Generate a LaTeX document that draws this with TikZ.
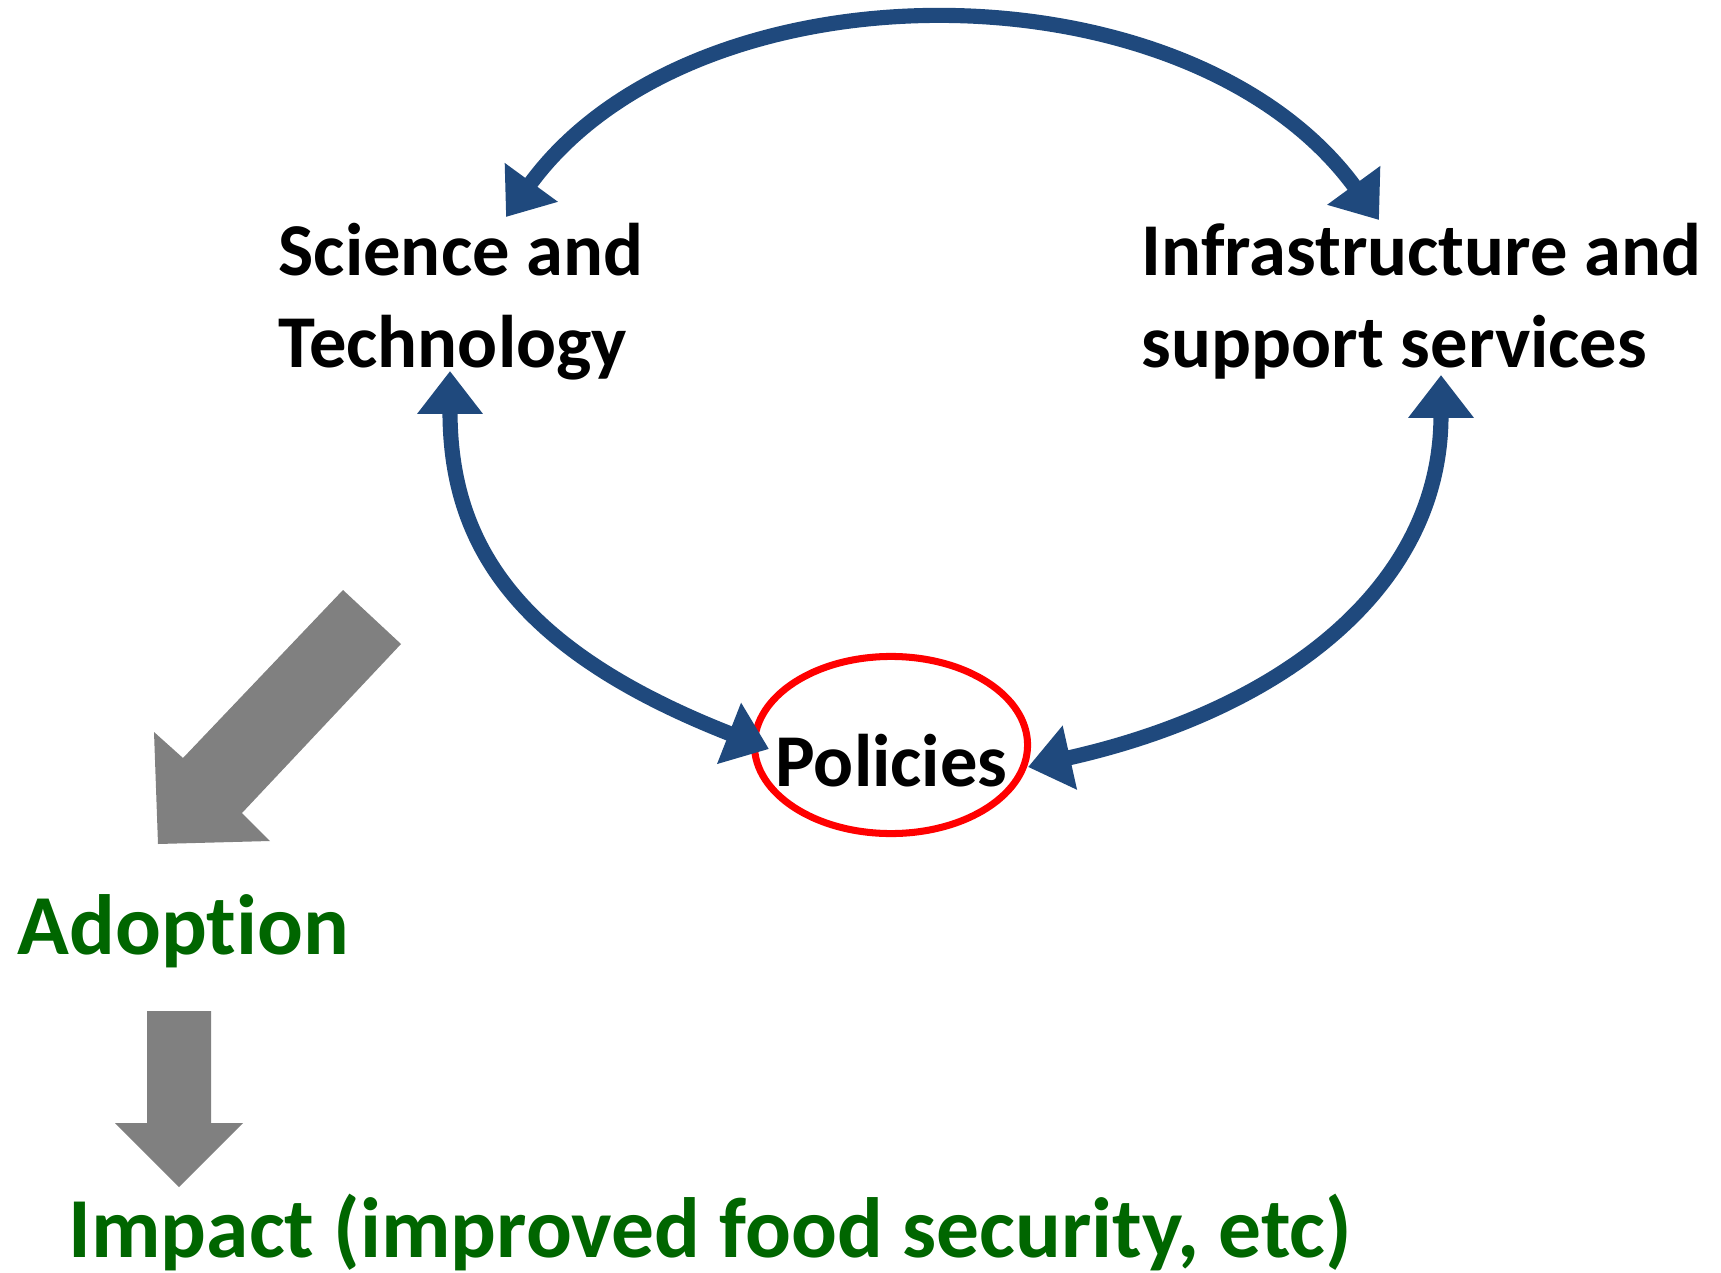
\documentclass[tikz,border=0pt]{standalone}
\usepackage{fontspec}
\setmainfont{Carlito}[Ligatures=NoCommon]
\usetikzlibrary{arrows.meta,calc,shapes.geometric}
\definecolor{linkblue}{HTML}{1F497D}
\definecolor{resultgreen}{HTML}{006600}
\colorlet{blockgray}{black!50}
\tikzset{
  topic/.style = {
    font=\fontsize{21.2}{26.2}\selectfont\bfseries,
    align=left, inner sep=0, anchor=north west
  },
  result/.style = {
    font=\fontsize{24.3}{28}\selectfont\bfseries,
    text=resultgreen, inner sep=0, anchor=base west
  },
  focus/.style = {
    ellipse, draw=red, line width=2pt,
    minimum width=2.73cm, minimum height=1.77cm, inner sep=0
  },
  link/.style = {
    line width=4.3pt, color=linkblue, <->,
    >={Triangle[length=12.2pt,width=17.9pt]}
  },
  block/.style = {fill=blockgray}
}

\begin{document}
\begin{tikzpicture}[x=0.01cm,y=-0.01cm]
  \useasboundingbox (0,0) rectangle (1721,1273);
  \node[topic] (sci) at (278,222) {Science and\\Technology};
  \node[topic] (infra) at (1141,222) {Infrastructure and\\support services};
  \node[focus] (pol) at (891,745) {};
  \node[font=\fontsize{21.2}{26.2}\selectfont\bfseries, inner sep=0, anchor=base]
    (poltext) at (891.5,786) {Policies};
  \node[result] (adopt) at (17,954) {Adoption};
  \node[result] (impact) at (68,1257) {Impact (improved food security, etc)};
  \draw[link] ($(sci.north west)+(228,-5)$) .. controls +(190,-260) and +(-190,-260) .. ($(infra.north west)+(238,-2)$);
  \draw[link] ($(sci.north west)+(172,149)$) .. controls +(0,175) and +(-250,-98) .. ($(pol.center)+(-122,4)$);
  \draw[link] ($(infra.north west)+(300,153)$) .. controls +(0,215) and +(250,-56) .. ($(pol.center)+(137,22)$);
  \fill[block] (343,590) -- (401,644) -- (242,813) -- (270,841) -- (158,844) -- (154,732) -- (183,758) -- cycle;
  \fill[block] (147,1011) -- (211,1011) -- (211,1123) -- (243,1123) -- (179,1187) -- (115,1123) -- (147,1123) -- cycle;
\end{tikzpicture}
\end{document}
